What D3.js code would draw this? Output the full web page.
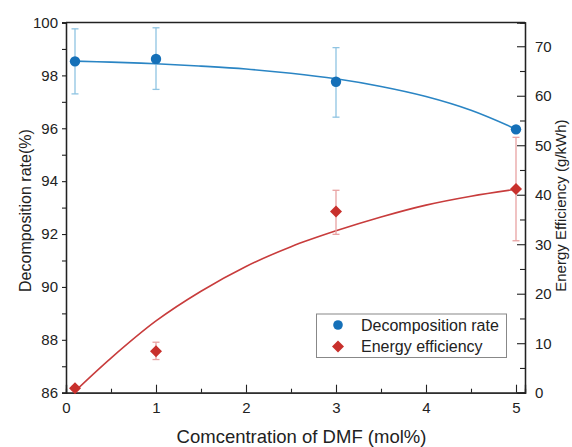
<!DOCTYPE html>
<html><head><meta charset="utf-8">
<script src="https://cdn.jsdelivr.net/npm/d3@7"></script>
<style>body{margin:0;background:#fff}text{font-family:"Liberation Sans",Arial,sans-serif;fill:#222}</style>
</head><body><svg id="c" width="572" height="447"></svg>
<script>
// Data
const concentration = [0.1, 1, 3, 5];
const decompRate = [98.53, 98.62, 97.76, 95.96];
const decompErrHi = [99.76, 99.8, 99.05, 96.05];
const decompErrLo = [97.3, 97.47, 96.42, 95.87];
const energyEff = [0.9, 8.4, 36.6, 41.15];
const energyErrHi = [1.3, 10.2, 40.9, 51.6];
const energyErrLo = [0.5, 6.7, 32.0, 30.7];
// fitted curves
const fitX = [0.1, 0.5, 1, 1.5, 2, 2.5, 3, 3.5, 4, 4.5, 5];
const decompFit = [98.54, 98.5, 98.44, 98.35, 98.24, 98.08, 97.87, 97.58, 97.2, 96.68, 95.97];
const energyFit = [0.3, 7.0, 14.5, 20.5, 25.5, 29.5, 32.7, 35.5, 37.9, 39.7, 41.1];
const xTicks = [0, 1, 2, 3, 4, 5];
const leftTicks = [86, 88, 90, 92, 94, 96, 98, 100];
const rightTicks = [0, 10, 20, 30, 40, 50, 60, 70];

const svg = d3.select("#c");
const L = 66, R = 525, T = 22.5, B = 392.7;
const x = d3.scaleLinear().domain([0, 5.1]).range([L, R]);
const yL = d3.scaleLinear().domain([86, 100]).range([B, T]);
const yR = d3.scaleLinear().domain([0, 74.8]).range([B, T]);

const blue = "#1570b8", blueLine = "#2a85c4", blueErr = "#8fc4e2";
const red = "#c8302c", redLine = "#c83c3c", redErr = "#e8a2a2";

// frame top
svg.append("line").attr("x1", L).attr("x2", R).attr("y1", T).attr("y2", T).attr("stroke", "#222").attr("stroke-width", 1.3);

// bottom axis (inward ticks)
const gx = svg.append("g").attr("transform", `translate(0,${B})`)
  .call(d3.axisBottom(x).tickValues(xTicks).tickSize(-8).tickPadding(14).tickFormat(d3.format("d")));
gx.append("g").call(d3.axisBottom(x).tickValues(d3.range(0.5, 5.1, 1)).tickSize(-4).tickFormat(""));
// left axis (outward ticks)
const gl = svg.append("g").attr("transform", `translate(${L},0)`)
  .call(d3.axisLeft(yL).tickValues(leftTicks).tickSize(4).tickPadding(4));
gl.append("g").call(d3.axisLeft(yL).tickValues(d3.range(87, 100, 2)).tickSize(4).tickFormat(""));
// right axis (inward ticks)
const gr = svg.append("g").attr("transform", `translate(${R},0)`)
  .call(d3.axisRight(yR).tickValues(rightTicks).tickSize(-8).tickPadding(10));
gr.append("g").call(d3.axisRight(yR).tickValues(d3.range(5, 75, 10)).tickSize(-5).tickFormat(""));

svg.selectAll(".domain").attr("stroke", "#222").attr("stroke-width", 1.3);
svg.selectAll(".tick line").attr("stroke", "#222").attr("stroke-width", 1.1);
svg.selectAll(".tick text").attr("font-size", 15).style("fill", "#222");
gx.selectAll(".tick text").attr("dy", "0.45em");

// axis titles
svg.append("text").attr("x", (L + R) / 2 + 6).attr("y", 443).attr("text-anchor", "middle").attr("font-size", 18.5).text("Comcentration of DMF (mol%)");
svg.append("text").attr("transform", `translate(31,${(T + B) / 2 + 3}) rotate(-90)`).attr("text-anchor", "middle").attr("font-size", 16).text("Decomposition rate(%)");
svg.append("text").attr("transform", `translate(566,${(T + B) / 2 - 2}) rotate(-90)`).attr("text-anchor", "middle").attr("font-size", 15).text("Energy Efficiency (g/kWh)");

// fit curves
svg.append("path").datum(fitX.map((d, i) => [d, decompFit[i]]))
  .attr("d", d3.line().x(d => x(d[0])).y(d => yL(d[1])).curve(d3.curveCatmullRom))
  .attr("fill", "none").attr("stroke", blueLine).attr("stroke-width", 1.6);
svg.append("path").datum(fitX.map((d, i) => [d, energyFit[i]]))
  .attr("d", d3.line().x(d => x(d[0])).y(d => yR(d[1])).curve(d3.curveCatmullRom))
  .attr("fill", "none").attr("stroke", redLine).attr("stroke-width", 1.6);

// error bars
function errBars(yScale, hi, lo, color) {
  const g = svg.append("g").attr("stroke", color).attr("stroke-width", 1.3);
  concentration.forEach((c, i) => {
    const cx = x(c);
    g.append("line").attr("x1", cx).attr("x2", cx).attr("y1", yScale(hi[i])).attr("y2", yScale(lo[i]));
    g.append("line").attr("x1", cx - 3.5).attr("x2", cx + 3.5).attr("y1", yScale(hi[i])).attr("y2", yScale(hi[i]));
    g.append("line").attr("x1", cx - 3.5).attr("x2", cx + 3.5).attr("y1", yScale(lo[i])).attr("y2", yScale(lo[i]));
  });
}
errBars(yR, energyErrHi, energyErrLo, redErr);
errBars(yL, decompErrHi, decompErrLo, blueErr);

// markers
const diamond = "M0,-6L6,0L0,6L-6,0Z";
svg.append("g").selectAll("path").data(concentration).join("path")
  .attr("d", diamond).attr("transform", (d, i) => `translate(${x(d)},${yR(energyEff[i])})`).attr("fill", red);
svg.append("g").selectAll("circle").data(concentration).join("circle")
  .attr("cx", d => x(d)).attr("cy", (d, i) => yL(decompRate[i])).attr("r", 5.2).attr("fill", blue);

// legend
const lg = svg.append("g");
lg.append("rect").attr("x", 316.5).attr("y", 314).attr("width", 190).attr("height", 43.5).attr("fill", "#fff").attr("stroke", "#888").attr("stroke-width", 1);
lg.append("circle").attr("cx", 338).attr("cy", 325).attr("r", 4.8).attr("fill", blue);
lg.append("path").attr("d", diamond).attr("transform", "translate(338,346.5)").attr("fill", red);
lg.append("text").attr("x", 361).attr("y", 325).attr("dy", "0.36em").attr("font-size", 16).text("Decomposition rate");
lg.append("text").attr("x", 361).attr("y", 346.5).attr("dy", "0.36em").attr("font-size", 16).text("Energy efficiency");
</script></body></html>
